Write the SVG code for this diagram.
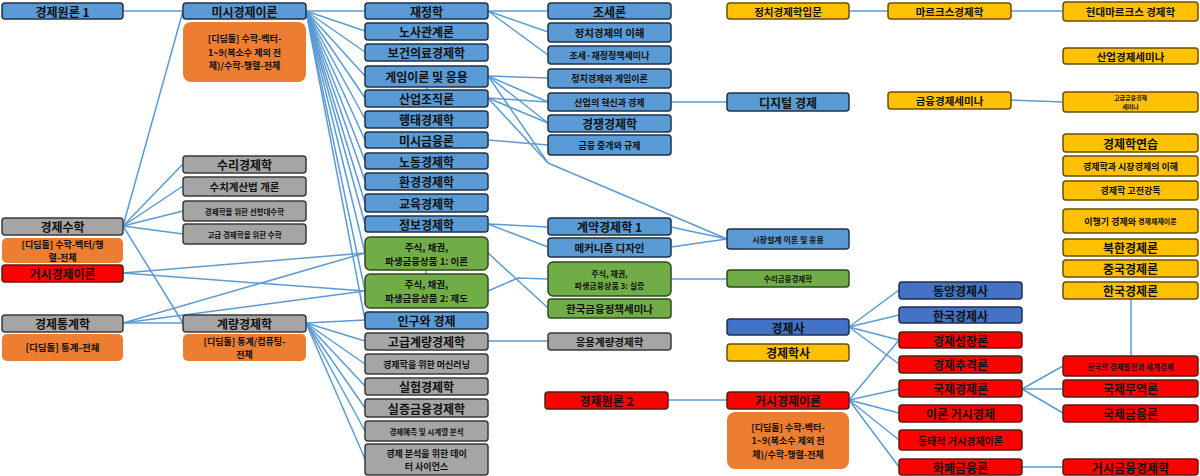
<svg xmlns="http://www.w3.org/2000/svg" width="1200" height="476" viewBox="0 0 1200 476">
<style>
text{font-family:"Noto Sans CJK KR","Noto Sans",sans-serif;font-weight:bold;text-anchor:middle;dominant-baseline:central;fill:#111}
.b{fill:#5B9BD5;stroke:#1F3349;stroke-width:1.5}
.db{fill:#4472C4;stroke:#1F2F4F;stroke-width:1.5}
.g{fill:#A5A5A5;stroke:#3A3A3A;stroke-width:1.5}
.gr{fill:#70AD47;stroke:#2E4A1E;stroke-width:1.5}
.y{fill:#FFC000;stroke:#6B5000;stroke-width:1.5}
.r{fill:#FF0000;stroke:#5A1E10;stroke-width:1.5}
.o{fill:#ED7D31}
.c line,.c polyline{stroke:#5B9BD5;stroke-width:1.5;fill:none}
.f12{font-size:12px}.f11{font-size:11px}.f105{font-size:10.5px}.f10{font-size:10px}.f95{font-size:9.5px}.f9{font-size:9px}.f8{font-size:8px}.f75{font-size:7.5px}.f6{font-size:6px}
</style>
<g class="c" id="connectors">
<line x1="123" y1="11" x2="183" y2="11"/>
<line x1="306" y1="11" x2="365" y2="11"/>
<line x1="306" y1="11" x2="365" y2="31"/>
<line x1="306" y1="11" x2="365" y2="52"/>
<line x1="306" y1="11" x2="365" y2="76"/>
<line x1="306" y1="11" x2="365" y2="98"/>
<line x1="306" y1="11" x2="365" y2="119"/>
<line x1="306" y1="11" x2="365" y2="140"/>
<line x1="306" y1="11" x2="365" y2="161"/>
<line x1="306" y1="11" x2="365" y2="181"/>
<line x1="306" y1="11" x2="365" y2="203"/>
<line x1="306" y1="11" x2="365" y2="224"/>
<line x1="306" y1="11" x2="365" y2="253"/>
<line x1="306" y1="11" x2="365" y2="291"/>
<line x1="306" y1="11" x2="365" y2="320"/>
<line x1="123" y1="226" x2="183" y2="11"/>
<line x1="123" y1="226" x2="183" y2="164"/>
<line x1="123" y1="226" x2="183" y2="186"/>
<line x1="123" y1="226" x2="183" y2="211"/>
<line x1="123" y1="226" x2="183" y2="234"/>
<line x1="123" y1="226" x2="183" y2="323"/>
<line x1="123" y1="273" x2="365" y2="253"/>
<line x1="123" y1="273" x2="365" y2="291"/>
<line x1="123" y1="323" x2="365" y2="253"/>
<line x1="123" y1="323" x2="365" y2="291"/>
<line x1="123" y1="323" x2="183" y2="323"/>
<line x1="306" y1="323" x2="365" y2="320"/>
<line x1="306" y1="323" x2="365" y2="341"/>
<line x1="306" y1="323" x2="365" y2="364"/>
<line x1="306" y1="323" x2="365" y2="386"/>
<line x1="306" y1="323" x2="365" y2="408"/>
<line x1="306" y1="323" x2="365" y2="431"/>
<line x1="306" y1="323" x2="365" y2="459"/>
<line x1="488" y1="11" x2="548" y2="11"/>
<line x1="488" y1="11" x2="548" y2="32"/>
<line x1="488" y1="11" x2="548" y2="55"/>
<line x1="488" y1="76" x2="548" y2="78"/>
<line x1="488" y1="76" x2="548" y2="102"/>
<line x1="488" y1="76" x2="548" y2="123"/>
<line x1="488" y1="76" x2="548" y2="163"/>
<line x1="488" y1="98" x2="548" y2="102"/>
<line x1="488" y1="98" x2="548" y2="123"/>
<line x1="488" y1="98" x2="548" y2="163"/>
<line x1="548" y1="163" x2="727" y2="239"/>
<line x1="488" y1="140" x2="548" y2="145"/>
<line x1="488" y1="224" x2="548" y2="227"/>
<line x1="488" y1="224" x2="548" y2="247"/>
<line x1="671" y1="227" x2="727" y2="239"/>
<line x1="671" y1="247" x2="727" y2="239"/>
<line x1="488" y1="253" x2="548" y2="308"/>
<polyline points="488,291 518,278 548,279"/>
<line x1="671" y1="279" x2="727" y2="279"/>
<line x1="671" y1="102" x2="727" y2="102"/>
<line x1="488" y1="341" x2="548" y2="341"/>
<line x1="668" y1="400" x2="727" y2="400"/>
<line x1="849" y1="11" x2="888" y2="11"/>
<line x1="1011" y1="11" x2="1063" y2="11"/>
<line x1="1011" y1="100" x2="1063" y2="102"/>
<line x1="849" y1="327" x2="899" y2="290"/>
<line x1="849" y1="327" x2="899" y2="315"/>
<line x1="849" y1="327" x2="899" y2="340"/>
<line x1="849" y1="327" x2="899" y2="364"/>
<line x1="849" y1="400" x2="899" y2="340"/>
<line x1="849" y1="400" x2="899" y2="389"/>
<line x1="849" y1="400" x2="899" y2="413"/>
<line x1="849" y1="400" x2="899" y2="440"/>
<line x1="849" y1="400" x2="899" y2="467"/>
<line x1="1022" y1="389" x2="1063" y2="366"/>
<line x1="1022" y1="389" x2="1063" y2="389"/>
<line x1="1022" y1="389" x2="1063" y2="413"/>
<line x1="1022" y1="467" x2="1063" y2="467"/>
<line x1="1131" y1="299" x2="1131" y2="356"/>
<line x1="427" y1="87" x2="427" y2="90"/>
<line x1="426" y1="270" x2="426" y2="274"/>
</g>

<g id="n-wonron1"><rect class="b" x="2" y="3" width="121" height="16" rx="3"/><text class="f12" x="62.5" y="11">경제원론 1</text></g>
<g id="n-math"><rect class="g" x="2" y="218" width="121" height="17" rx="3"/><text class="f12" x="62.5" y="226.5">경제수학</text></g>
<g id="n-math-step"><rect class="o" x="2" y="238" width="121" height="25" rx="5"/><text class="f9" x="62.5" y="244">[디딤돌] 수학-벡터/행</text><text class="f9" x="62.5" y="257.5">렬-전체</text></g>
<g id="n-macro-l"><rect class="r" x="2" y="265" width="121" height="17" rx="3"/><text class="f12" x="62.5" y="273.5">거시경제이론</text></g>
<g id="n-stat"><rect class="g" x="2" y="315" width="121" height="17" rx="3"/><text class="f12" x="62.5" y="323.5">경제통계학</text></g>
<g id="n-stat-step"><rect class="o" x="2" y="334" width="121" height="27" rx="5"/><text class="f95" x="62.5" y="347">[디딤돌] 통계-전체</text></g>

<g id="n-micro"><rect class="b" x="183" y="3" width="123" height="16" rx="3"/><text class="f12" x="244.5" y="11">미시경제이론</text></g>
<g id="n-micro-step"><rect class="o" x="183" y="22" width="123" height="60" rx="8"/><text class="f9" x="244.5" y="38.5">[디딤돌] 수학-벡터-</text><text class="f9" x="244.5" y="52">1~9(복소수 제외 전</text><text class="f9" x="244.5" y="65.5">체)/수학-행렬-전체</text></g>
<g id="n-mathecon"><rect class="g" x="183" y="156" width="123" height="17" rx="3"/><text class="f12" x="244.5" y="164.5">수리경제학</text></g>
<g id="n-numeric"><rect class="g" x="183" y="177" width="123" height="19" rx="3"/><text class="f105" x="244.5" y="186.5">수치계산법 개론</text></g>
<g id="n-linalg"><rect class="g" x="183" y="201" width="123" height="20" rx="3"/><text class="f75" x="244.5" y="211">경제학을 위한 선형대수학</text></g>
<g id="n-advmath"><rect class="g" x="183" y="224" width="123" height="20" rx="3"/><text class="f75" x="244.5" y="234">고급 경제학을 위한 수학</text></g>
<g id="n-metrics"><rect class="g" x="183" y="315" width="123" height="17" rx="3"/><text class="f12" x="244.5" y="323.5">계량경제학</text></g>
<g id="n-metrics-step"><rect class="o" x="183" y="334" width="123" height="27" rx="5"/><text class="f9" x="244.5" y="341">[디딤돌] 통계/컴퓨팅-</text><text class="f9" x="244.5" y="354.5">전체</text></g>

<g id="n-public"><rect class="b" x="365" y="3" width="123" height="16" rx="3"/><text class="f12" x="426.5" y="11">재정학</text></g>
<g id="n-labor-rel"><rect class="b" x="365" y="23" width="123" height="17" rx="3"/><text class="f12" x="426.5" y="31.5">노사관계론</text></g>
<g id="n-health"><rect class="b" x="365" y="44" width="123" height="17" rx="3"/><text class="f12" x="426.5" y="52.5">보건의료경제학</text></g>
<g id="n-game"><rect class="b" x="365" y="66" width="123" height="21" rx="3"/><text class="f12" x="426.5" y="76.5">게임이론 및 응용</text></g>
<g id="n-io"><rect class="b" x="365" y="90" width="123" height="17" rx="3"/><text class="f12" x="426.5" y="98.5">산업조직론</text></g>
<g id="n-behav"><rect class="b" x="365" y="111" width="123" height="17" rx="3"/><text class="f12" x="426.5" y="119.5">행태경제학</text></g>
<g id="n-microfin"><rect class="b" x="365" y="132" width="123" height="16" rx="3"/><text class="f12" x="426.5" y="140">미시금융론</text></g>
<g id="n-labor"><rect class="b" x="365" y="153" width="123" height="16" rx="3"/><text class="f12" x="426.5" y="161">노동경제학</text></g>
<g id="n-env"><rect class="b" x="365" y="173" width="123" height="17" rx="3"/><text class="f12" x="426.5" y="181.5">환경경제학</text></g>
<g id="n-edu"><rect class="b" x="365" y="194" width="123" height="18" rx="3"/><text class="f12" x="426.5" y="203">교육경제학</text></g>
<g id="n-info"><rect class="b" x="365" y="216" width="123" height="16" rx="3"/><text class="f12" x="426.5" y="224">정보경제학</text></g>
<g id="n-stock1"><rect class="gr" x="365" y="237" width="123" height="33" rx="5"/><text class="f95" x="426.5" y="246.5">주식, 채권,</text><text class="f95" x="426.5" y="260.5">파생금융상품 1: 이론</text></g>
<g id="n-stock2"><rect class="gr" x="365" y="274" width="123" height="34" rx="5"/><text class="f95" x="426.5" y="284">주식, 채권,</text><text class="f95" x="426.5" y="298">파생금융상품 2: 제도</text></g>
<g id="n-pop"><rect class="b" x="365" y="312" width="123" height="17" rx="3"/><text class="f12" x="426.5" y="320.5">인구와 경제</text></g>
<g id="n-advmetrics"><rect class="g" x="365" y="333" width="123" height="17" rx="3"/><text class="f12" x="426.5" y="341.5">고급계량경제학</text></g>
<g id="n-ml"><rect class="g" x="365" y="354" width="123" height="20" rx="3"/><text class="f9" x="426.5" y="364">경제학을 위한 머신러닝</text></g>
<g id="n-exp"><rect class="g" x="365" y="378" width="123" height="17" rx="3"/><text class="f12" x="426.5" y="386.5">실험경제학</text></g>
<g id="n-empfin"><rect class="g" x="365" y="399" width="123" height="18" rx="3"/><text class="f12" x="426.5" y="408">실증금융경제학</text></g>
<g id="n-ts"><rect class="g" x="365" y="421" width="123" height="20" rx="3"/><text class="f75" x="426.5" y="431">경제예측 및 시계열 분석</text></g>
<g id="n-ds"><rect class="g" x="365" y="444" width="123" height="31" rx="3"/><text class="f9" x="426.5" y="453">경제 분석을 위한 데이</text><text class="f9" x="426.5" y="466.5">터 사이언스</text></g>

<g id="n-tax"><rect class="b" x="548" y="3" width="123" height="16" rx="3"/><text class="f12" x="609.5" y="11">조세론</text></g>
<g id="n-polecon"><rect class="b" x="548" y="23" width="123" height="19" rx="3"/><text class="f105" x="609.5" y="32.5">정치경제의 이해</text></g>
<g id="n-taxsem"><rect class="b" x="548" y="46" width="123" height="18" rx="3"/><text class="f9" x="609.5" y="55">조세·재정정책세미나</text></g>
<g id="n-polgame"><rect class="b" x="548" y="69" width="123" height="19" rx="3"/><text class="f9" x="609.5" y="78.5">정치경제와 게임이론</text></g>
<g id="n-innov"><rect class="b" x="548" y="93" width="123" height="18" rx="3"/><text class="f9" x="609.5" y="102">산업의 혁신과 경제</text></g>
<g id="n-compet"><rect class="b" x="548" y="115" width="123" height="17" rx="3"/><text class="f12" x="609.5" y="123.5">경쟁경제학</text></g>
<g id="n-finint"><rect class="b" x="548" y="135" width="123" height="20" rx="3"/><text class="f9" x="609.5" y="145">금융 중개와 규제</text></g>
<g id="n-contract"><rect class="b" x="548" y="218" width="123" height="17" rx="3"/><text class="f12" x="609.5" y="226.5">계약경제학 1</text></g>
<g id="n-mech"><rect class="b" x="548" y="238" width="123" height="19" rx="3"/><text class="f105" x="609.5" y="247.5">메커니즘 디자인</text></g>
<g id="n-stock3"><rect class="gr" x="548" y="262" width="123" height="34" rx="5"/><text class="f8" x="609.5" y="273">주식, 채권,</text><text class="f8" x="609.5" y="285">파생금융상품 3: 실증</text></g>
<g id="n-krfin"><rect class="gr" x="548" y="299" width="123" height="19" rx="3"/><text class="f105" x="609.5" y="308.5">한국금융정책세미나</text></g>
<g id="n-appmetrics"><rect class="g" x="548" y="333" width="123" height="17" rx="3"/><text class="f105" x="609.5" y="341.5">응용계량경제학</text></g>
<g id="n-wonron2"><rect class="r" x="545" y="392" width="123" height="17" rx="3"/><text class="f12" x="606.5" y="400.5">경제원론 2</text></g>

<g id="n-polintro"><rect class="y" x="727" y="3" width="122" height="16" rx="3"/><text class="f105" x="788" y="11">정치경제학입문</text></g>
<g id="n-digital"><rect class="b" x="727" y="93" width="122" height="18" rx="3"/><text class="f12" x="788" y="102">디지털 경제</text></g>
<g id="n-market"><rect class="b" x="727" y="229" width="122" height="20" rx="3"/><text class="f8" x="788" y="239">시장설계 이론 및 응용</text></g>
<g id="n-mathfin"><rect class="gr" x="727" y="270" width="122" height="17" rx="3"/><text class="f75" x="788" y="278.5">수리금융경제학</text></g>
<g id="n-history"><rect class="db" x="727" y="319" width="122" height="16" rx="3"/><text class="f12" x="788" y="327">경제사</text></g>
<g id="n-thought"><rect class="y" x="727" y="344" width="122" height="17" rx="3"/><text class="f12" x="788" y="352.5">경제학사</text></g>
<g id="n-macro"><rect class="r" x="727" y="392" width="122" height="17" rx="3"/><text class="f12" x="788" y="400.5">거시경제이론</text></g>
<g id="n-macro-step"><rect class="o" x="727" y="412" width="122" height="57" rx="8"/><text class="f9" x="788" y="427">[디딤돌] 수학-벡터-</text><text class="f9" x="788" y="440.5">1~9(복소수 제외 전</text><text class="f9" x="788" y="454">체)/수학-행렬-전체</text></g>

<g id="n-marx"><rect class="y" x="888" y="3" width="123" height="16" rx="3"/><text class="f105" x="949.5" y="11">마르크스경제학</text></g>
<g id="n-finsem"><rect class="y" x="888" y="92" width="123" height="17" rx="3"/><text class="f105" x="949.5" y="100.5">금융경제세미나</text></g>
<g id="n-easthist"><rect class="db" x="899" y="282" width="123" height="17" rx="3"/><text class="f12" x="960.5" y="290.5">동양경제사</text></g>
<g id="n-krhist"><rect class="db" x="899" y="307" width="123" height="16" rx="3"/><text class="f12" x="960.5" y="315">한국경제사</text></g>
<g id="n-growth"><rect class="r" x="899" y="332" width="123" height="16" rx="3"/><text class="f12" x="960.5" y="340">경제성장론</text></g>
<g id="n-catchup"><rect class="r" x="899" y="356" width="123" height="17" rx="3"/><text class="f12" x="960.5" y="364.5">경제추격론</text></g>
<g id="n-intl"><rect class="r" x="899" y="380" width="123" height="17" rx="3"/><text class="f12" x="960.5" y="388.5">국제경제론</text></g>
<g id="n-theomacro"><rect class="r" x="899" y="405" width="123" height="17" rx="3"/><text class="f12" x="960.5" y="413.5">이론 거시경제</text></g>
<g id="n-dynmacro"><rect class="r" x="899" y="430" width="123" height="20" rx="3"/><text class="f10" x="960.5" y="440">동태적 거시경제이론</text></g>
<g id="n-money"><rect class="r" x="899" y="459" width="123" height="16" rx="3"/><text class="f12" x="960.5" y="467">화폐금융론</text></g>

<g id="n-modmarx"><rect class="y" x="1063" y="2" width="135" height="19" rx="3"/><text class="f105" x="1130.5" y="11.5">현대마르크스 경제학</text></g>
<g id="n-indsem"><rect class="y" x="1063" y="48" width="135" height="16" rx="3"/><text class="f105" x="1130.5" y="56">산업경제세미나</text></g>
<g id="n-advfinsem"><rect class="y" x="1063" y="92" width="135" height="20" rx="3"/><text class="f6" x="1130.5" y="97.5">고급금융경제</text><text class="f6" x="1130.5" y="106.5">세미나</text></g>
<g id="n-practice"><rect class="y" x="1063" y="134" width="135" height="18" rx="3"/><text class="f12" x="1130.5" y="143">경제학연습</text></g>
<g id="n-mktecon"><rect class="y" x="1063" y="156" width="135" height="20" rx="3"/><text class="f9" x="1130.5" y="166">경제학과 시장경제의 이해</text></g>
<g id="n-classic"><rect class="y" x="1063" y="181" width="135" height="19" rx="3"/><text class="f9" x="1130.5" y="190.5">경제학 고전강독</text></g>
<g id="n-transition"><rect class="y" x="1063" y="209" width="135" height="24" rx="3"/><text x="1130.5" y="221"><tspan class="f9">이행기 경제와 </tspan><tspan style="font-size:7px">경제체제이론</tspan></text></g>
<g id="n-nk"><rect class="y" x="1063" y="239" width="135" height="17" rx="3"/><text class="f12" x="1130.5" y="247.5">북한경제론</text></g>
<g id="n-cn"><rect class="y" x="1063" y="260" width="135" height="17" rx="3"/><text class="f12" x="1130.5" y="268.5">중국경제론</text></g>
<g id="n-kr"><rect class="y" x="1063" y="282" width="135" height="17" rx="3"/><text class="f12" x="1130.5" y="290.5">한국경제론</text></g>
<g id="n-krdev"><rect class="r" x="1063" y="356" width="135" height="20" rx="3"/><text class="f75" x="1130.5" y="366">한국의 경제발전과 세계경제</text></g>
<g id="n-trade"><rect class="r" x="1063" y="380" width="135" height="17" rx="3"/><text class="f12" x="1130.5" y="388.5">국제무역론</text></g>
<g id="n-intfin"><rect class="r" x="1063" y="405" width="135" height="17" rx="3"/><text class="f12" x="1130.5" y="413.5">국제금융론</text></g>
<g id="n-macrofin"><rect class="r" x="1063" y="459" width="135" height="16" rx="3"/><text class="f12" x="1130.5" y="467">거시금융경제학</text></g>
</svg>
